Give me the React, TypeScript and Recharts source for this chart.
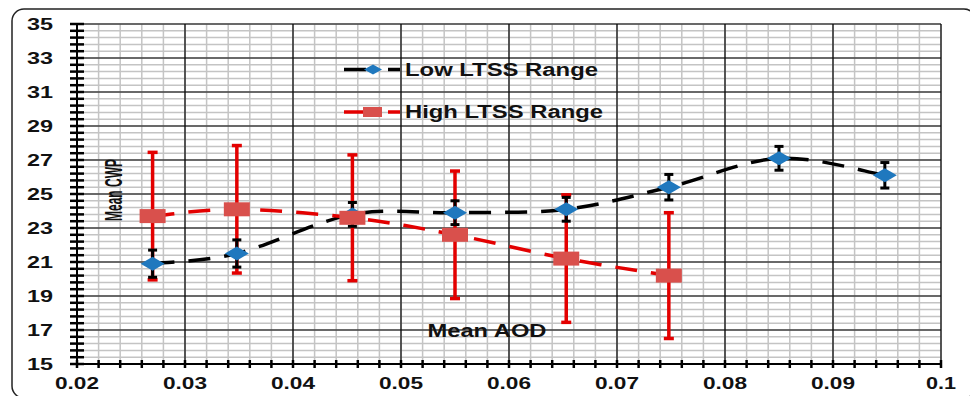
import React from "react";
import {
  ComposedChart,
  Line,
  XAxis,
  YAxis,
  CartesianGrid,
  ReferenceLine,
  ErrorBar,
} from "recharts";

// Low LTSS range
const aodLow = [0.027, 0.0348, 0.0455, 0.055, 0.0653, 0.0748, 0.085, 0.0948];
const cwpLow = [20.9, 21.5, 23.8, 23.9, 24.1, 25.4, 27.1, 26.1];
const errLow = [0.8, 0.8, 0.7, 0.7, 0.7, 0.75, 0.7, 0.75];

// High LTSS range
const aodHigh = [0.027, 0.0348, 0.0455, 0.055, 0.0653, 0.0748];
const cwpHigh = [23.7, 24.1, 23.6, 22.6, 21.2, 20.2];
const errHigh = [3.75, 3.75, 3.7, 3.75, 3.75, 3.7];

// axis labels
const xLabels = [0.02, 0.03, 0.04, 0.05, 0.06, 0.07, 0.08, 0.09, 0.1];
const yLabels = [15, 17, 19, 21, 23, 25, 27, 29, 31, 33, 35];

const lowData = aodLow.map((x, i) => ({ x, y: cwpLow[i], err: errLow[i] }));
const highData = aodHigh.map((x, i) => ({ x, y: cwpHigh[i], err: errHigh[i] }));

// minor grid steps (5 per major)
const xTicks = Array.from({ length: 41 }, (_, i) => +(0.02 + i * 0.002).toFixed(3));
const yTicks = Array.from({ length: 51 }, (_, i) => +(15 + i * 0.4).toFixed(1));

const FONT = "'Liberation Sans', Arial, sans-serif";
const TEXT = "#111";

// excel-like smoothed line
const smoothCurve = (context: any) => {
  let pts: number[][] = [];
  return {
    areaStart() {},
    areaEnd() {},
    lineStart() {
      pts = [];
    },
    point(x: number, y: number) {
      pts.push([+x, +y]);
    },
    lineEnd() {
      if (!pts.length) return;
      context.moveTo(pts[0][0], pts[0][1]);
      for (let i = 0; i < pts.length - 1; i++) {
        const p0 = pts[i - 1] || pts[i];
        const p1 = pts[i];
        const p2 = pts[i + 1];
        const p3 = pts[i + 2] || p2;
        context.bezierCurveTo(
          p1[0] + (p2[0] - p0[0]) / 6,
          p1[1] + (p2[1] - p0[1]) / 6,
          p2[0] - (p3[0] - p1[0]) / 6,
          p2[1] - (p3[1] - p1[1]) / 6,
          p2[0],
          p2[1]
        );
      }
    },
  };
};

const XTick = (props: any) => {
  const { x, y, payload } = props;
  const label = xLabels.find((v) => Math.abs(v - payload.value) < 1e-6);
  return (
    <g>
      <line x1={x} x2={x} y1={y - 4} y2={y + 4} stroke="#000" strokeWidth={2.5} />
      {label !== undefined && (
        <text
          x={x}
          y={y + 25}
          textAnchor="middle"
          fontFamily={FONT}
          fontWeight="bold"
          fontSize={16}
          fill={TEXT}
          textLength={label === 0.1 ? 30 : 44}
          lengthAdjust="spacingAndGlyphs"
        >
          {String(label)}
        </text>
      )}
    </g>
  );
};

const YTick = (props: any) => {
  const { x, y, payload } = props;
  const label = yLabels.find((v) => Math.abs(v - payload.value) < 1e-6);
  return (
    <g>
      <line x1={x - 7} x2={x + 7} y1={y} y2={y} stroke="#000" strokeWidth={2.5} />
      {label !== undefined && (
        <text
          x={x - 24}
          y={y + 5.5}
          textAnchor="end"
          fontFamily={FONT}
          fontWeight="bold"
          fontSize={16}
          fill={TEXT}
          textLength={26}
          lengthAdjust="spacingAndGlyphs"
        >
          {label}
        </text>
      )}
    </g>
  );
};

const Diamond = (props: any) => {
  const { cx, cy } = props;
  if (cx == null || cy == null) return null;
  return (
    <path
      d={`M${cx - 12},${cy} L${cx},${cy - 7} L${cx + 12},${cy} L${cx},${cy + 7} Z`}
      fill="#1f78be"
    />
  );
};

const Square = (props: any) => {
  const { cx, cy } = props;
  if (cx == null || cy == null) return null;
  return <rect x={cx - 13} y={cy - 7} width={26} height={14} fill="#d9504c" />;
};

export default function App() {
  return (
    <div style={{ position: "absolute", left: 0, top: 0, width: 970, height: 396, background: "#fff" }}>
      <ComposedChart width={970} height={396} margin={{ top: 24, right: 29, bottom: 2, left: 17 }}>
        <CartesianGrid stroke="#c4c4c4" strokeWidth={1.5} />
        <XAxis
          type="number"
          dataKey="x"
          domain={[0.02, 0.1]}
          ticks={xTicks}
          interval={0}
          height={30}
          tickSize={0}
          tickMargin={0}
          tick={<XTick />}
          tickLine={false}
          axisLine={{ stroke: "#000", strokeWidth: 2 }}
          allowDataOverflow
        />
        <YAxis
          type="number"
          dataKey="y"
          domain={[15, 35]}
          ticks={yTicks}
          interval={0}
          width={60}
          tickSize={0}
          tickMargin={0}
          tick={<YTick />}
          tickLine={false}
          axisLine={{ stroke: "#000", strokeWidth: 2 }}
          allowDataOverflow
        />
        {xLabels.slice(1).map((v) => (
          <ReferenceLine key={"x" + v} x={v} stroke="#000" strokeWidth={1.2} />
        ))}
        {yLabels.slice(1).map((v) => (
          <ReferenceLine key={"y" + v} y={v} stroke="#000" strokeWidth={1.2} />
        ))}

        {/* high range error bars go under the low series */}
        <Line
          data={highData}
          dataKey="y"
          stroke="none"
          dot={false}
          activeDot={false}
          legendType="none"
          isAnimationActive={false}
        >
          <ErrorBar dataKey="err" direction="y" width={5} stroke="#e30000" strokeWidth={3.5} />
        </Line>

        <Line
          data={lowData}
          dataKey="y"
          type={smoothCurve as any}
          stroke="#000"
          strokeWidth={3.5}
          strokeDasharray="22 14"
          dot={<Diamond />}
          activeDot={false}
          isAnimationActive={false}
        >
          <ErrorBar dataKey="err" direction="y" width={4.5} stroke="#000" strokeWidth={3} />
        </Line>

        <Line
          data={highData}
          dataKey="y"
          type={smoothCurve as any}
          stroke="#e30000"
          strokeWidth={3.5}
          strokeDasharray="22 14"
          dot={<Square />}
          activeDot={false}
          isAnimationActive={false}
        />
      </ComposedChart>

      {/* legend, axis titles and outer frame */}
      <svg
        width={970}
        height={396}
        style={{ position: "absolute", left: 0, top: 0, pointerEvents: "none" }}
      >
        <rect x={12} y={9} width={964} height={389} rx={12} fill="none" stroke="#222" strokeWidth={1.5} />

        <line x1={344} x2={400} y1={69.5} y2={69.5} stroke="#000" strokeWidth={3.5} strokeDasharray="22 22" />
        <path d="M364,69.5 L373,64.5 L382,69.5 L373,74.5 Z" fill="#1f78be" />
        <text
          x={405}
          y={76}
          fontFamily={FONT}
          fontWeight="bold"
          fontSize={18}
          fill={TEXT}
          textLength={193}
          lengthAdjust="spacingAndGlyphs"
        >
          Low LTSS Range
        </text>

        <line x1={344} x2={400} y1={112} y2={112} stroke="#e30000" strokeWidth={3.5} strokeDasharray="22 22" />
        <rect x={363} y={107} width={19} height={10} fill="#d9504c" />
        <text
          x={405}
          y={117.5}
          fontFamily={FONT}
          fontWeight="bold"
          fontSize={18}
          fill={TEXT}
          textLength={198}
          lengthAdjust="spacingAndGlyphs"
        >
          High LTSS Range
        </text>

        <text
          transform="translate(122,190) rotate(-90)"
          textAnchor="middle"
          fontFamily={FONT}
          fontWeight="bold"
          fontSize={24}
          fill={TEXT}
          textLength={62}
          lengthAdjust="spacingAndGlyphs"
        >
          Mean CWP
        </text>
        <text
          x={487}
          y={337}
          textAnchor="middle"
          fontFamily={FONT}
          fontWeight="bold"
          fontSize={19}
          fill={TEXT}
          textLength={119}
          lengthAdjust="spacingAndGlyphs"
        >
          Mean AOD
        </text>
      </svg>
    </div>
  );
}
